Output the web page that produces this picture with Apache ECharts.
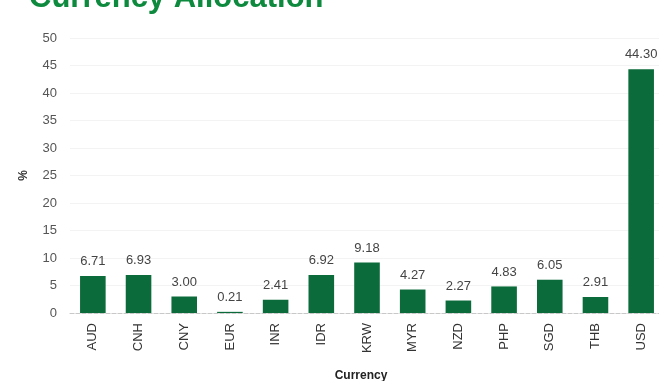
<!DOCTYPE html>
<html><head><meta charset="utf-8">
<script src="https://cdn.jsdelivr.net/npm/echarts@6/dist/echarts.min.js"></script>
<style>html,body{margin:0;padding:0;background:#fff}#c{width:659px;height:381px}</style>
</head><body><div id="c"></div>
<script>
const categories = ['AUD','CNH','CNY','EUR','INR','IDR','KRW','MYR','NZD','PHP','SGD','THB','USD'];
const values = [6.71,6.93,3.00,0.21,2.41,6.92,9.18,4.27,2.27,4.83,6.05,2.91,44.30];
const yTicks = [0,5,10,15,20,25,30,35,40,45,50];
const chart = echarts.init(document.getElementById('c'));
chart.setOption({
  animation:false,
  title:{text:'Currency Allocation',left:24,top:-22,textStyle:{color:'#0e8a3e',fontSize:31,fontWeight:'bold',fontFamily:'Liberation Sans'}},
  grid:{left:70,right:-5,top:38,bottom:68,containLabel:false,outerBoundsMode:'none'},
  xAxis:{type:'category',data:categories,name:'Currency',nameLocation:'middle',nameGap:57,
    nameTextStyle:{fontSize:12,fontWeight:'bold',color:'#222',fontFamily:'Liberation Sans',padding:[0,0,0,-12]},
    axisTick:{show:false},
    axisLine:{lineStyle:{color:'#c8c8c8',type:'dashed'}},
    axisLabel:{rotate:90,fontSize:13,color:'#333',margin:10,fontFamily:'Liberation Sans'}},
  yAxis:{type:'value',min:yTicks[0],max:yTicks[yTicks.length-1],interval:5,name:'%',nameLocation:'middle',nameGap:40,nameRotate:90,
    nameTextStyle:{fontSize:12,color:'#333',fontWeight:'bold',fontFamily:'Liberation Sans'},
    axisLine:{show:false},axisTick:{show:false},
    axisLabel:{fontSize:13,color:'#555',margin:13,fontFamily:'Liberation Sans'},
    splitLine:{lineStyle:{color:'#f3f3f3'}}},
  series:[{type:'bar',data:values,barWidth:'56%',itemStyle:{color:'#0b6b3a'},
    label:{show:true,position:'top',distance:8,fontSize:13,color:'#444',fontFamily:'Liberation Sans',
      formatter:p=>p.value.toFixed(2)}}]
});
</script></body></html>
